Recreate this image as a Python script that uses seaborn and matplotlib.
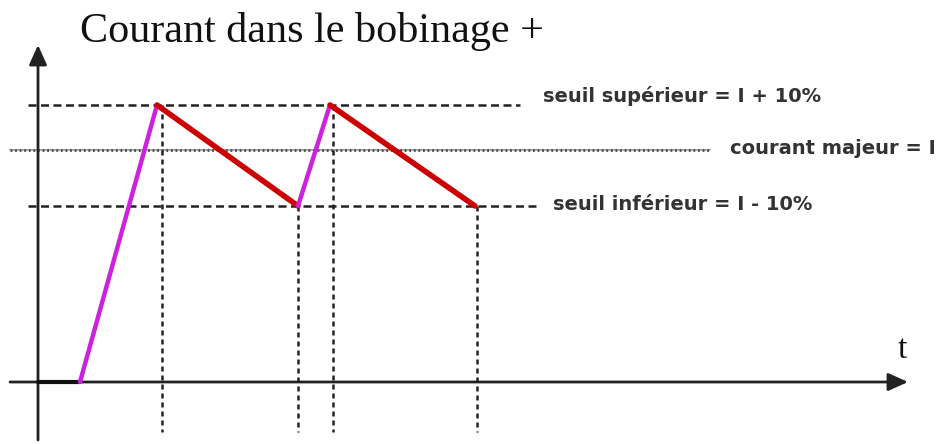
import matplotlib
matplotlib.use("Agg")
import matplotlib.pyplot as plt
import seaborn as sns
import pandas as pd

sns.set_theme(style="white")

# ---- data (time in arbitrary units, current in arbitrary units) ----
t_off = [0.0, 4.2]                 # current off (zero) before start
i_off = [0.0, 0.0]
t_rise1 = [4.2, 11.9]              # first rise (magenta)
i_rise1 = [0.0, 2.77]
t_fall1 = [11.9, 26.0]             # decay (red)
i_fall1 = [2.77, 1.76]
t_rise2 = [26.0, 29.2]             # second rise (magenta)
i_rise2 = [1.76, 2.77]
t_fall2 = [29.2, 43.7]             # decay (red)
i_fall2 = [2.77, 1.76]

seuil_sup = 2.77
courant_majeur = 2.32
seuil_inf = 1.76

t_marks = [12.4, 26.0, 29.5, 43.9]
i_marks = [2.77, 1.76, 2.77, 1.76]

labels = ["seuil supérieur = I + 10%", "courant majeur = I", "seuil inférieur = I - 10%"]
title = "Courant dans le bobinage +"
x_label = "t"

fig = plt.figure(figsize=(9.44, 4.44), dpi=100)
ax = fig.add_axes([0, 0, 1, 1])
ax.set_xlim(-3.8, 90.6)
ax.set_ylim(-0.62, 3.82)
ax.axis("off")

# reference lines
ax.plot([-1.0, 48.2], [seuil_sup] * 2, color="#222222", lw=1.8, ls=(0, (3.2, 1.8)), zorder=2)
ax.plot([-2.8, 67.2], [courant_majeur] * 2, color="#9a9a9a", lw=1.2, zorder=2)
ax.plot([-2.8, 67.2], [courant_majeur] * 2, color="#555555", lw=2.2, ls=(0, (0.6, 0.9)), zorder=2)
ax.plot([-1.0, 50.2], [seuil_inf] * 2, color="#222222", lw=1.8, ls=(0, (3.2, 1.8)), zorder=2)
for tm, im in zip(t_marks, i_marks):
    ax.plot([tm, tm], [im, -0.5], color="#222222", lw=1.8, ls=(0, (2.0, 1.6)), zorder=2)

# axes with arrows
ax.annotate("", xy=(87.0, 0.0), xytext=(-2.8, 0.0),
            arrowprops=dict(arrowstyle="-|>,head_length=1.0,head_width=0.45",
                            color="#222222", lw=2.0, shrinkA=0, shrinkB=0), zorder=3)
ax.annotate("", xy=(0.0, 3.37), xytext=(0.0, -0.58),
            arrowprops=dict(arrowstyle="-|>,head_length=1.0,head_width=0.45",
                            color="#222222", lw=2.0, shrinkA=0, shrinkB=0), zorder=3)

# current waveform
sns.lineplot(x=t_off, y=i_off, ax=ax, color="#111111", lw=3.0, zorder=4)
sns.lineplot(x=t_rise1, y=i_rise1, ax=ax, color="#cc22dd", lw=3.2, zorder=5)
sns.lineplot(x=t_fall1, y=i_fall1, ax=ax, color="#cc0000", lw=4.0, zorder=5)
sns.lineplot(x=t_rise2, y=i_rise2, ax=ax, color="#cc22dd", lw=3.2, zorder=5)
sns.lineplot(x=t_fall2, y=i_fall2, ax=ax, color="#cc0000", lw=4.0, zorder=5)
ax.set_xlim(-3.8, 90.6)
ax.set_ylim(-0.62, 3.82)

# texts
lab_kw = dict(fontsize=14, family="DejaVu Sans", fontweight="bold", color="#333333",
              va="center", ha="left")
ax.text(50.5, 2.86, labels[0], **lab_kw)
ax.text(69.2, 2.33, labels[1], **lab_kw)
ax.text(51.5, 1.77, labels[2], **lab_kw)
ax.text(4.2, 3.40, title, fontsize=30.3, family="Liberation Serif", color="#111111",
        va="baseline", ha="left")
ax.text(86.4, 0.32, x_label, fontsize=24, family="Liberation Serif", color="#111111",
        va="center", ha="center")

fig.savefig("out.png", dpi=100)
